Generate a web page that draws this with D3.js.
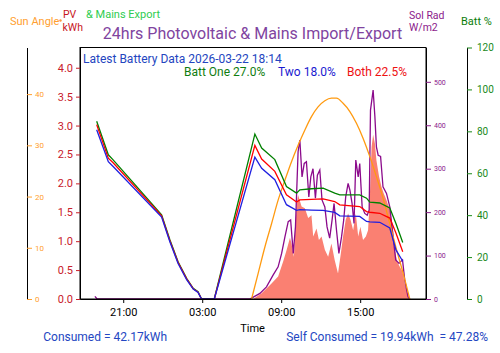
<!DOCTYPE html>
<html lang="en">
<head>
    <meta charset="UTF-8">
    <title>24hrs Photovoltaic & Mains Import/Export</title>
    <script src="https://d3js.org/d3.v7.min.js"></script>
    <style>
        body { margin: 0; background: #fff; font-family: Roboto, 'DejaVu Sans', sans-serif; }
        text { font-family: Roboto, 'DejaVu Sans', sans-serif; }
        .line { fill: none; stroke-width: 1.3; }
    </style>
</head>
<body>
    <svg id="chart"></svg>

    <script>
        // battery state of charge (%)
        const battTimes = ["21 18:59","21 19:52","21 20:14","21 23:55","22 00:33","22 01:10","22 01:49","22 02:19","22 02:41","22 02:57","22 03:55",
            "22 07:00","22 07:31","22 08:31","22 09:24","22 10:10","22 10:25","22 11:18","22 12:11","22 13:04","22 13:27","22 14:58",
            "22 15:29","22 15:44","22 16:29","22 17:15","22 17:43","22 18:14"];
        const battOne  = [84.8, 68.8, 66.4, 40.2, 28.2, 17.8, 9.9, 5.1, 3.5, 0, 0, 78.7, 72.0, 66.5, 53.7, 50.5, 52.1, 52.6, 52.9, 50.5, 49.7, 49.7, 48.1, 46.2, 45.8, 43.4, 36.0, 27.0];
        const battTwo  = [80.8, 65.5, 63.2, 39.1, 27.2, 16.9, 9.2, 4.7, 3.1, 0, 0, 67.7, 62.4, 56.9, 45.0, 42.3, 42.6, 42.4, 42.3, 41.3, 39.7, 39.4, 37.0, 36.8, 36.6, 33.9, 23.4, 18.0];
        const battBoth = [83.2, 67.2, 65.0, 39.7, 27.7, 17.4, 9.6, 4.9, 3.3, 0, 0, 73.3, 66.8, 60.9, 49.7, 46.3, 47.3, 47.5, 47.8, 46.5, 44.9, 44.1, 41.7, 41.4, 40.9, 38.6, 31.5, 22.5];

        // sun elevation (degrees)
        const sunTimes = ["22 06:45","22 07:15","22 07:46","22 08:16","22 08:46","22 09:17","22 09:47","22 10:17","22 10:48","22 11:18","22 11:48","22 12:19",
            "22 12:49","22 13:12","22 13:42","22 14:13","22 14:43","22 15:13","22 15:44","22 16:14","22 16:44","22 17:15","22 17:46","22 18:16","22 18:46"];
        const sunAngle = [0, 5.0, 10.2, 14.7, 19.3, 23.2, 26.8, 30.0, 33.0, 35.6, 37.5, 38.7, 39.2, 39.2, 38.2, 36.6, 34.3, 31.4, 27.8, 23.9, 19.7, 14.7, 9.6, 5.0, 0];

        // solar radiation (W/m2)
        const solTimes = ["21 18:51","21 19:01","22 06:37","22 07:23","22 07:53","22 08:23","22 08:46","22 09:02","22 09:17","22 09:32","22 09:43","22 09:55",
            "22 10:05","22 10:17","22 10:25","22 10:35","22 10:45","22 10:55","22 11:06","22 11:15","22 11:25","22 11:36","22 11:45","22 11:56",
            "22 12:06","22 12:19","22 12:29","22 12:41","22 12:52","22 13:01","22 13:12","22 13:23","22 13:35","22 13:45","22 13:54","22 14:05",
            "22 14:13","22 14:23","22 14:32","22 14:40","22 14:51","22 14:58","22 15:09","22 15:21","22 15:32","22 15:41","22 15:47","22 15:59",
            "22 16:07","22 16:14","22 16:22","22 16:33","22 16:44","22 17:00","22 17:15","22 17:30","22 17:42","22 17:57","22 18:13","22 18:23","22 18:38","22 18:46"];
        const solRad = [6, 0, 0, 13, 28, 55, 74, 105, 143, 178, 182, 105,
            166, 339, 366, 281, 312, 316, 235, 281, 300, 232, 285, 297,
            228, 212, 166, 140, 182, 220, 159, 105, 143, 182, 235, 266,
            251, 220, 174, 320, 281, 312, 212, 197, 193, 205, 435, 481,
            420, 350, 331, 328, 258, 243, 212, 143, 90, 82, 90, 44, 5, 0];

        // PV generation (kWh)
        const pvTimes = ["22 06:52","22 07:31","22 08:16","22 08:46","22 09:09","22 09:25","22 09:40","22 09:47","22 09:58","22 10:10","22 10:17","22 10:33",
            "22 10:48","22 11:03","22 11:18","22 11:26","22 11:41","22 11:52","22 12:04","22 12:19","22 12:34","22 12:49","22 13:04","22 13:19",
            "22 13:32","22 13:42","22 13:54","22 14:05","22 14:16","22 14:28","22 14:40","22 14:51","22 15:01","22 15:13","22 15:26","22 15:36",
            "22 15:44","22 15:52","22 15:59","22 16:07","22 16:14","22 16:26","22 16:37","22 16:47","22 17:00","22 17:15","22 17:30","22 17:38",
            "22 17:48","22 18:00","22 18:13","22 18:23","22 18:38","22 18:46"];
        const pvKwh = [0, 0.10, 0.27, 0.39, 0.65, 0.85, 1.06, 0.96, 0.73, 1.63, 1.80, 1.60,
            1.57, 1.40, 1.45, 1.08, 1.22, 1.02, 1.08, 0.85, 0.73, 0.96, 0.67, 0.44,
            0.79, 1.08, 1.37, 1.48, 1.37, 1.19, 1.48, 1.08, 1.25, 1.02, 1.08, 1.19,
            1.77, 2.63, 2.84, 2.69, 2.40, 2.12, 1.94, 1.83, 1.71, 1.54, 1.19, 0.85,
            0.65, 0.56, 0.47, 0.27, 0.07, 0];

        const xTickLabels = ["21 21:00", "22 03:00", "22 09:00", "22 15:00"];
        const kwhTicks = [0, 0.5, 1.0, 1.5, 2.0, 2.5, 3.0, 3.5, 4.0];
        const sunTicks = [0, 10, 20, 30, 40];
        const solTicks = [0, 100, 200, 300, 400, 500];
        const battTicks = [0, 20, 40, 60, 80, 100, 120];

        const parse = s => d3.timeParse("%Y-%m-%d %H:%M")("2026-03-" + s);

        const W = 500, H = 353;
        const plot = {left: 80, right: 426, top: 47.5, bottom: 299};

        const svg = d3.select("#chart").attr("width", W).attr("height", H);

        const x = d3.scaleTime()
            .domain([parse("21 17:43"), parse("22 20:00")])
            .range([plot.left, plot.right]);
        const yKwh = d3.scaleLinear().domain([0, 4.35]).range([plot.bottom, plot.top]);
        const ySun = d3.scaleLinear().domain([0, 49.1]).range([plot.bottom, plot.top]);
        const ySol = d3.scaleLinear().domain([0, 579]).range([plot.bottom, plot.top]);
        const yBatt = d3.scaleLinear().domain([0, 120]).range([plot.bottom, plot.top]);

        const pv = pvTimes.map((t, i) => ({t: parse(t), v: pvKwh[i]}));
        const sol = solTimes.map((t, i) => ({t: parse(t), v: solRad[i]}));
        const sun = sunTimes.map((t, i) => ({t: parse(t), v: sunAngle[i]}));
        const batt = key => battTimes.map((t, i) => ({t: parse(t), v: key[i]}));

        // PV fill
        svg.append("path")
            .datum(pv)
            .attr("fill", "salmon")
            .attr("d", d3.area().x(d => x(d.t)).y0(plot.bottom).y1(d => yKwh(d.v)));

        // solar radiation
        svg.append("path")
            .datum(sol)
            .attr("class", "line")
            .attr("stroke", "#8b0a8b")
            .attr("d", d3.line().x(d => x(d.t)).y(d => ySol(d.v)));

        // sun angle
        svg.append("path")
            .datum(sun)
            .attr("class", "line")
            .attr("stroke", "#ff9a10")
            .attr("d", d3.line().curve(d3.curveMonotoneX).x(d => x(d.t)).y(d => ySun(d.v)));

        const battLine = d3.line().x(d => x(d.t)).y(d => yBatt(d.v));
        [[battOne, "green"], [battBoth, "red"], [battTwo, "#1f1fe0"]].forEach(([vals, col]) => {
            svg.append("path")
                .datum(batt(vals))
                .attr("class", "line")
                .attr("stroke", col)
                .attr("d", battLine);
        });

        // frame
        svg.append("rect")
            .attr("x", plot.left).attr("y", plot.top)
            .attr("width", plot.right - plot.left).attr("height", plot.bottom - plot.top)
            .attr("fill", "none").attr("stroke", "black");

        function styleAxis(g, col, size) {
            g.select(".domain").attr("stroke", "black");
            g.selectAll(".tick line").attr("stroke", col);
            g.selectAll(".tick text").attr("fill", col).style("font-size", size + "px");
        }

        // x axis
        svg.append("g")
            .attr("transform", `translate(0,${plot.bottom})`)
            .call(d3.axisBottom(x).tickValues(xTickLabels.map(parse)).tickFormat(d3.timeFormat("%H:%M")).tickSize(4).tickSizeOuter(0))
            .call(g => styleAxis(g, "black", 11))
            .call(g => g.selectAll(".tick text").attr("dy", "0.95em"));

        // kWh
        svg.append("g")
            .attr("transform", `translate(${plot.left},0)`)
            .call(d3.axisLeft(yKwh).tickValues(kwhTicks).tickFormat(d3.format(".1f")).tickSize(4).tickSizeOuter(0))
            .call(g => styleAxis(g, "#c8202a", 11));

        // sun angle, offset left
        svg.append("g")
            .attr("transform", "translate(27,0)")
            .call(d3.axisRight(ySun).tickValues(sunTicks).tickSize(5).tickSizeOuter(0))
            .call(g => styleAxis(g, "#ffa030", 8));

        // sol rad
        svg.append("g")
            .attr("transform", `translate(${plot.right},0)`)
            .call(d3.axisRight(ySol).tickValues(solTicks).tickSize(5).tickSizeOuter(0))
            .call(g => styleAxis(g, "#8b1a8b", 7));

        // batt %
        svg.append("g")
            .attr("transform", "translate(467,0)")
            .call(d3.axisRight(yBatt).tickValues(battTicks).tickSize(5).tickPadding(5).tickSizeOuter(0))
            .call(g => styleAxis(g, "#1a8a1a", 10));

        function label(txt, px, py, col, size, anchor) {
            svg.append("text")
                .attr("x", px).attr("y", py)
                .attr("fill", col)
                .style("font-size", size + "px")
                .style("white-space", "pre")
                .attr("text-anchor", anchor || "start")
                .text(txt);
        }

        label("24hrs Photovoltaic & Mains Import/Export", 252.5, 39, "#8044a0", 16, "middle");
        label("Sun Angle", 10, 25, "#ffa030", 11);
        svg.append("circle").attr("cx", 60.5).attr("cy", 20.5).attr("r", 1.2).attr("fill", "#ff9a40");
        label("PV", 63, 18, "#c8161e", 10.5);
        label("kWh", 62.5, 30.8, "#c8161e", 10.5);
        label("& Mains Export", 86, 17.7, "#2ecc50", 11);
        label("Sol Rad", 409, 18.5, "#8b1a8b", 10.5);
        label("W/m2", 409, 31, "#8b1a8b", 10.5);
        label("Batt %", 461, 25, "#0a7d0a", 11);

        label("Latest Battery Data 2026-03-22 18:14", 83, 62.7, "#2345c0", 12);
        label("Batt One 27.0%", 184, 76, "#0f7d0f", 12);
        label("Two 18.0%", 278, 76, "#1a1ad0", 12);
        label("Both 22.5%", 347, 76, "#ee1111", 12);

        label("Time", 252.5, 331.7, "black", 11, "middle");
        label("Consumed = 42.17kWh", 167, 341, "#2447c2", 12, "end");
        label("Self Consumed = 19.94kWh  = 47.28%", 488, 341, "#2447c2", 12, "end");
    </script>
</body>
</html>
